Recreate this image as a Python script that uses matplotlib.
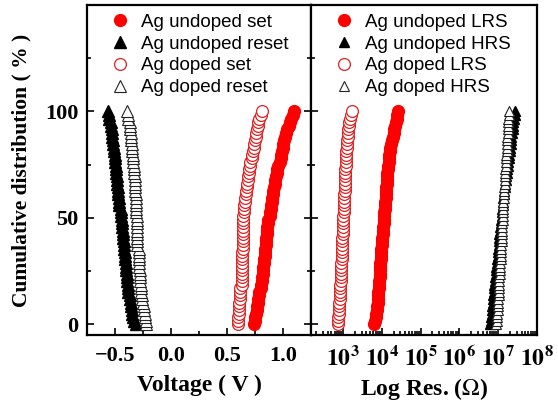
import numpy as np
import matplotlib
matplotlib.use("Agg")
import matplotlib.pyplot as plt
from matplotlib.ticker import MultipleLocator, LogLocator, FixedLocator, NullFormatter

plt.rcParams['mathtext.fontset'] = 'stix'

# set / reset voltages (V)
undoped_set = [0.74, 0.75, 0.75, 0.76, 0.77, 0.77, 0.78, 0.78, 0.79, 0.79,
               0.80, 0.80, 0.81, 0.81, 0.82, 0.82, 0.82, 0.83, 0.83, 0.84,
               0.84, 0.84, 0.85, 0.85, 0.85, 0.86, 0.86, 0.86, 0.87, 0.87,
               0.88, 0.88, 0.89, 0.89, 0.90, 0.90, 0.91, 0.91, 0.92, 0.93,
               0.93, 0.94, 0.95, 0.95, 0.96, 0.97, 0.98, 0.98, 0.99, 1.00,
               1.00, 1.01, 1.02, 1.03, 1.04, 1.05, 1.06, 1.07, 1.09, 1.10]
doped_set = [0.60, 0.60, 0.60, 0.61, 0.61, 0.61, 0.61, 0.62, 0.62, 0.62,
             0.62, 0.63, 0.63, 0.63, 0.63, 0.63, 0.63, 0.63, 0.63, 0.63,
             0.63, 0.64, 0.64, 0.64, 0.64, 0.64, 0.64, 0.64, 0.64, 0.64,
             0.64, 0.65, 0.65, 0.65, 0.66, 0.66, 0.67, 0.67, 0.68, 0.68,
             0.69, 0.69, 0.70, 0.70, 0.71, 0.71, 0.72, 0.72, 0.73, 0.74,
             0.74, 0.75, 0.76, 0.76, 0.77, 0.78, 0.78, 0.79, 0.80, 0.81]
undoped_reset = [-0.31, -0.33, -0.34, -0.35, -0.35, -0.36, -0.36, -0.37, -0.37, -0.38,
                 -0.38, -0.38, -0.39, -0.39, -0.39, -0.40, -0.40, -0.40, -0.41, -0.41,
                 -0.41, -0.42, -0.42, -0.42, -0.43, -0.43, -0.43, -0.44, -0.44, -0.44,
                 -0.45, -0.45, -0.45, -0.46, -0.46, -0.46, -0.47, -0.47, -0.47, -0.48,
                 -0.48, -0.48, -0.49, -0.49, -0.49, -0.50, -0.50, -0.50, -0.51, -0.51,
                 -0.52, -0.52, -0.53, -0.53, -0.53, -0.54, -0.54, -0.55, -0.55, -0.56]
doped_reset = [-0.22, -0.22, -0.23, -0.23, -0.24, -0.24, -0.25, -0.26, -0.26, -0.27,
               -0.27, -0.27, -0.28, -0.28, -0.28, -0.28, -0.29, -0.29, -0.29, -0.29,
               -0.29, -0.29, -0.30, -0.30, -0.30, -0.30, -0.30, -0.30, -0.30, -0.30,
               -0.30, -0.31, -0.31, -0.31, -0.31, -0.31, -0.31, -0.32, -0.32, -0.32,
               -0.32, -0.32, -0.33, -0.33, -0.33, -0.34, -0.34, -0.34, -0.35, -0.35,
               -0.35, -0.36, -0.36, -0.36, -0.37, -0.37, -0.37, -0.38, -0.38, -0.39]

# resistances: LRS in Ohm, HRS in MOhm
doped_lrs = [720, 735, 750, 765, 780, 790, 800, 810, 820, 830,
             840, 850, 860, 870, 880, 890, 900, 905, 910, 920,
             930, 940, 945, 950, 960, 970, 980, 990, 1000, 1010,
             1020, 1030, 1040, 1050, 1060, 1070, 1080, 1090, 1100, 1110,
             1120, 1130, 1140, 1150, 1160, 1180, 1190, 1200, 1220, 1240,
             1260, 1280, 1300, 1320, 1350, 1380, 1420, 1480, 1560, 1650]
undoped_lrs = [6300, 6600, 6900, 7100, 7300, 7500, 7700, 7850, 8000, 8150,
               8300, 8450, 8600, 8700, 8800, 8900, 9000, 9150, 9300, 9450,
               9600, 9750, 9900, 10050, 10200, 10400, 10600, 10800, 11000, 11200,
               11400, 11600, 11800, 12000, 12200, 12400, 12600, 12800, 13000, 13200,
               13400, 13600, 13900, 14200, 14500, 14800, 15200, 15600, 16000, 16600,
               17200, 18000, 19000, 20000, 21000, 22000, 23000, 24000, 25000, 26000]
undoped_hrs_M = [6.3, 6.5, 6.65, 6.8, 6.95, 7.1, 7.25, 7.4, 7.55, 7.7,
                 7.85, 8.0, 8.2, 8.4, 8.6, 8.8, 9.0, 9.2, 9.4, 9.6,
                 9.8, 10.0, 10.2, 10.4, 10.6, 10.8, 11.0, 11.3, 11.6, 11.9,
                 12.2, 12.5, 12.8, 13.1, 13.4, 13.7, 14.0, 14.4, 14.8, 15.2,
                 15.6, 16.0, 16.5, 17.0, 17.5, 18.0, 18.5, 19.0, 19.6, 20.2,
                 20.8, 21.4, 22.0, 22.7, 23.4, 24.1, 24.8, 25.6, 26.5, 27.5]
doped_hrs_M = [8.9, 9.1, 9.3, 9.5, 9.6, 9.8, 9.9, 10.0, 10.2, 10.3,
               10.4, 10.6, 10.7, 10.8, 11.0, 11.1, 11.2, 11.4, 11.5, 11.6,
               11.8, 11.9, 12.0, 12.2, 12.3, 12.4, 12.6, 12.7, 12.8, 13.0,
               13.1, 13.3, 13.4, 13.6, 13.7, 13.9, 14.0, 14.2, 14.4, 14.6,
               14.8, 15.0, 15.2, 15.4, 15.6, 15.8, 16.0, 16.2, 16.4, 16.6,
               16.8, 17.0, 17.2, 17.4, 17.6, 17.8, 18.0, 18.3, 18.6, 19.0]

log_ticks = [1e3, 1e4, 1e5, 1e6, 1e7, 1e8]
log_labels = [r'$\mathbf{10^{%d}}$' % e for e in range(3, 9)]


def cdf(vals, scale=1.0):
    v = np.array(vals) * scale
    return v, np.linspace(0, 100, len(v))


serif = 'Liberation Serif'
sans = 'Liberation Sans'

fig = plt.figure(figsize=(5.58, 4.03), dpi=100)
ax1 = fig.add_axes([0.1559, 0.1687, 0.4014, 0.8189])
ax2 = fig.add_axes([0.5573, 0.1687, 0.405, 0.8189])

ms = 8.5
x, y = cdf(undoped_set)
ax1.plot(x, y, 'o', color='red', ms=ms, mec='red', label='Ag undoped set')
x, y = cdf(undoped_reset)
ax1.plot(x, y, '^', color='black', ms=ms, label='Ag undoped reset')
x, y = cdf(doped_set)
ax1.plot(x, y, 'o', mfc='white', mec='#e02020', mew=0.9, ms=ms, label='Ag doped set')
x, y = cdf(doped_reset)
ax1.plot(x, y, '^', mfc='white', mec='#222222', mew=0.8, ms=ms, label='Ag doped reset')

ms2 = 7
x, y = cdf(undoped_lrs)
ax2.plot(x, y, 'o', color='red', ms=ms, label='Ag undoped LRS')
x, y = cdf(undoped_hrs_M, 1e6)
ax2.plot(x, y, '^', color='black', ms=ms2, label='Ag undoped HRS')
x, y = cdf(doped_lrs)
ax2.plot(x, y, 'o', mfc='white', mec='#e02020', mew=0.9, ms=ms, label='Ag doped LRS')
x, y = cdf(doped_hrs_M, 1e6)
ax2.plot(x, y, '^', mfc='white', mec='#222222', mew=0.8, ms=ms2, label='Ag doped HRS')

for ax in (ax1, ax2):
    ax.set_ylim(-5, 150)
    ax.yaxis.set_major_locator(FixedLocator([0, 50, 100]))
    ax.yaxis.set_minor_locator(FixedLocator([25, 75, 125]))
    for s in ax.spines.values():
        s.set_linewidth(1.6)
    ax.tick_params(which='both', direction='in', width=1.2)
    ax.tick_params(which='major', length=5)
    ax.tick_params(which='minor', length=3)
    ax.tick_params(axis='x', which='major', pad=8)
    ax.tick_params(axis='y', which='major', pad=6)

ax1.set_xlim(-0.75, 1.25)
ax1.xaxis.set_major_locator(MultipleLocator(0.5))
ax1.xaxis.set_minor_locator(MultipleLocator(0.25))
ax1.tick_params(axis='y', which='both', right=True)
for lab in ax1.get_xticklabels() + ax1.get_yticklabels():
    lab.set_fontfamily(serif)
    lab.set_fontweight('bold')
    lab.set_fontsize(16)
ax1.set_xlabel('Voltage ( V )', fontfamily=serif, fontweight='bold', fontsize=17)
ax1.xaxis.set_label_coords(0.5, -0.12)
ax1.set_ylabel('Cumulative distribution ( % )', fontfamily=serif, fontweight='bold',
               fontsize=15.5, labelpad=10)

ax2.set_xscale('log')
ax2.set_xlim(10 ** 2.17, 1e8)
ax2.xaxis.set_major_locator(FixedLocator(log_ticks))
ax2.xaxis.set_minor_locator(LogLocator(base=10, subs=np.arange(2, 10), numticks=20))
ax2.xaxis.set_minor_formatter(NullFormatter())
ax2.set_xticklabels(log_labels, fontsize=17)
ax2.tick_params(axis='y', which='both', labelleft=False)
ax2.set_xlabel('Log Res. ($\\Omega$)', fontfamily=serif, fontweight='bold', fontsize=17)
ax2.xaxis.set_label_coords(0.5, -0.125)

leg_kw = dict(frameon=False, prop={'family': sans, 'size': 13.5}, handlelength=1.0,
              handletextpad=0.6, labelspacing=0.25, borderaxespad=0.2)
ax1.legend(loc='upper left', bbox_to_anchor=(0.055, 1.008), **leg_kw)
ax2.legend(loc='upper left', bbox_to_anchor=(0.055, 1.008), **leg_kw)

fig.savefig('out.png', dpi=100)
